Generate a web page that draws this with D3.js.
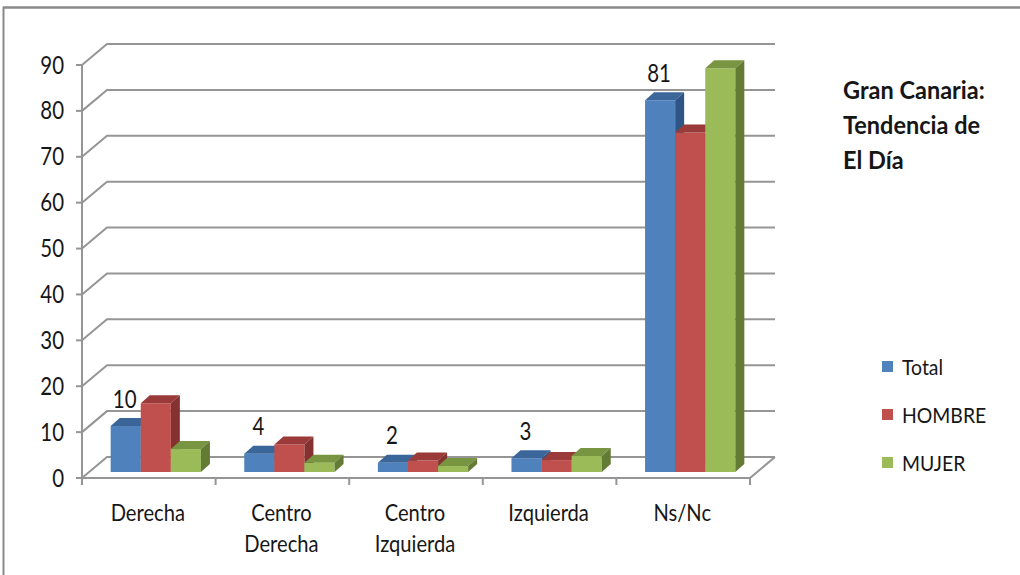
<!DOCTYPE html>
<html>
<head>
<meta charset="utf-8">
<script src="https://cdn.jsdelivr.net/npm/d3@7"></script>
<style>
  html, body { margin: 0; padding: 0; background: #fff; }
  svg { display: block; }
  text { font-family: Lato, "Noto Sans", sans-serif; fill: #161616; }
</style>
</head>
<body>
<svg id="chart" width="1020" height="575"></svg>
<script>
// ---- data ----
const categories = [["Derecha"], ["Centro", "Derecha"], ["Centro", "Izquierda"], ["Izquierda"], ["Ns/Nc"]];
const seriesNames = ["Total", "HOMBRE", "MUJER"];
const totalValues = [10, 4, 2, 3, 81];
const hombreValues = [15, 6, 2.5, 2.6, 74];
const mujerValues = [5, 2, 1.3, 3.5, 88];
const yTicks = [0, 10, 20, 30, 40, 50, 60, 70, 80, 90];
const titleLines = ["Gran Canaria:", "Tendencia de", "El Día"];

const seriesValues = [totalValues, hombreValues, mujerValues];
const colors = [
  { front: "#4F81BD", top: "#3B6699", side: "#2F5586" },
  { front: "#C0504D", top: "#9A3B39", side: "#85312F" },
  { front: "#9BBB59", top: "#789541", side: "#637B35" }
];

const svg = d3.select("#chart");

// ---- geometry ----
const x0 = 82, x1 = 750, yBase = 478, yTop = 65;
const depth = { dx: 25, dy: -21 };
const barShift = { dx: 7, dy: -6 };
const barDepth = { dx: 9, dy: -8 };

const xScale = d3.scaleBand().domain(d3.range(categories.length)).range([x0, x1]);
const yScale = d3.scaleLinear().domain([0, 90]).range([yBase, yTop]);
const inner = d3.scaleBand().domain(d3.range(seriesNames.length))
  .range([0, xScale.bandwidth()]).paddingOuter(0.72).paddingInner(0);

function label(parent, x, y, txt, size, anchor, sx, sy, weight) {
  return parent.append("text")
    .attr("transform", `translate(${x},${y}) scale(${sx},${sy})`)
    .attr("text-anchor", anchor).attr("font-size", size)
    .attr("font-weight", weight || "normal").text(txt);
}

// outer frame (top and left)
svg.append("line").attr("x1", 3).attr("y1", 7.5).attr("x2", 1020).attr("y2", 7.5)
  .attr("stroke", "#8a8a8a").attr("stroke-width", 2.5);
svg.append("line").attr("x1", 3.5).attr("y1", 7).attr("x2", 3.5).attr("y2", 575)
  .attr("stroke", "#8a8a8a").attr("stroke-width", 2);

const gridColor = "#959595";

const grid = svg.append("g");
yTicks.forEach(t => {
  const y = yScale(t);
  grid.append("path")
    .attr("d", `M${x0},${y} L${x0 + depth.dx},${y + depth.dy} L${x1 + depth.dx},${y + depth.dy}`)
    .attr("fill", "none").attr("stroke", gridColor).attr("stroke-width", 2);
});
grid.append("line").attr("x1", x1).attr("y1", yBase).attr("x2", x1 + depth.dx).attr("y2", yBase + depth.dy)
  .attr("stroke", gridColor).attr("stroke-width", 2);
grid.append("line").attr("x1", x0).attr("y1", yScale(90)).attr("x2", x0).attr("y2", yBase)
  .attr("stroke", gridColor).attr("stroke-width", 2);
grid.append("line").attr("x1", x0).attr("y1", yBase).attr("x2", x1).attr("y2", yBase)
  .attr("stroke", gridColor).attr("stroke-width", 2);
yTicks.forEach(t => {
  grid.append("line").attr("x1", x0 - 6).attr("x2", x0).attr("y1", yScale(t)).attr("y2", yScale(t))
    .attr("stroke", gridColor).attr("stroke-width", 2);
});
d3.range(categories.length + 1).forEach(i => {
  const x = x0 + i * xScale.bandwidth();
  grid.append("line").attr("x1", x).attr("x2", x).attr("y1", yBase).attr("y2", yBase + 7)
    .attr("stroke", gridColor).attr("stroke-width", 2);
});

// y tick labels
const yl = svg.append("g");
yTicks.forEach(t => label(yl, 64, yScale(t) + 8.5, t, 22, "end", 0.93, 1.12));

// category labels
categories.forEach((lines, i) => {
  const cx = xScale(i) + xScale.bandwidth() / 2 - 1;
  lines.forEach((ln, j) => label(svg, cx, 521 + j * 31, ln, 21, "middle", 0.96, 1.08));
});

// bars
const bars = svg.append("g");
categories.forEach((c, i) => {
  seriesNames.forEach((s, k) => {
    const v = seriesValues[k][i];
    const xl = xScale(i) + inner(k) + barShift.dx;
    const xr = xl + inner.bandwidth();
    const yb = yScale(0) + barShift.dy;
    const yt = yScale(v) + barShift.dy;
    const col = colors[k];
    const ddx = barDepth.dx, ddy = barDepth.dy;
    bars.append("path").attr("d", `M${xl},${yb} L${xl},${yt} L${xr},${yt} L${xr},${yb} Z`)
      .attr("fill", col.front);
    bars.append("path").attr("d", `M${xl},${yt} L${xl + ddx},${yt + ddy} L${xr + ddx},${yt + ddy} L${xr},${yt} Z`)
      .attr("fill", col.top);
    bars.append("path").attr("d", `M${xr},${yt} L${xr + ddx},${yt + ddy} L${xr + ddx},${yb + ddy} L${xr},${yb} Z`)
      .attr("fill", col.side);
  });
  const v = totalValues[i];
  const xl = xScale(i) + inner(0) + barShift.dx;
  label(svg, xl + inner.bandwidth() / 2 - 1, yScale(v) + barShift.dy - 18.5, v, 22, "middle", 0.93, 1.12);
});

// title
titleLines.forEach((t, i) => label(svg, 843, 99 + i * 35, t, 24, "start", 0.98, 1.05, "bold"));

// legend
seriesNames.forEach((s, k) => {
  const y = 367 + k * 48;
  svg.append("rect").attr("x", 882).attr("y", y - 6).attr("width", 11).attr("height", 11)
    .attr("fill", colors[k].front);
  label(svg, 902, y + 7.5, s, 20, "start", 0.97, 1.1);
});
</script>
</body>
</html>
